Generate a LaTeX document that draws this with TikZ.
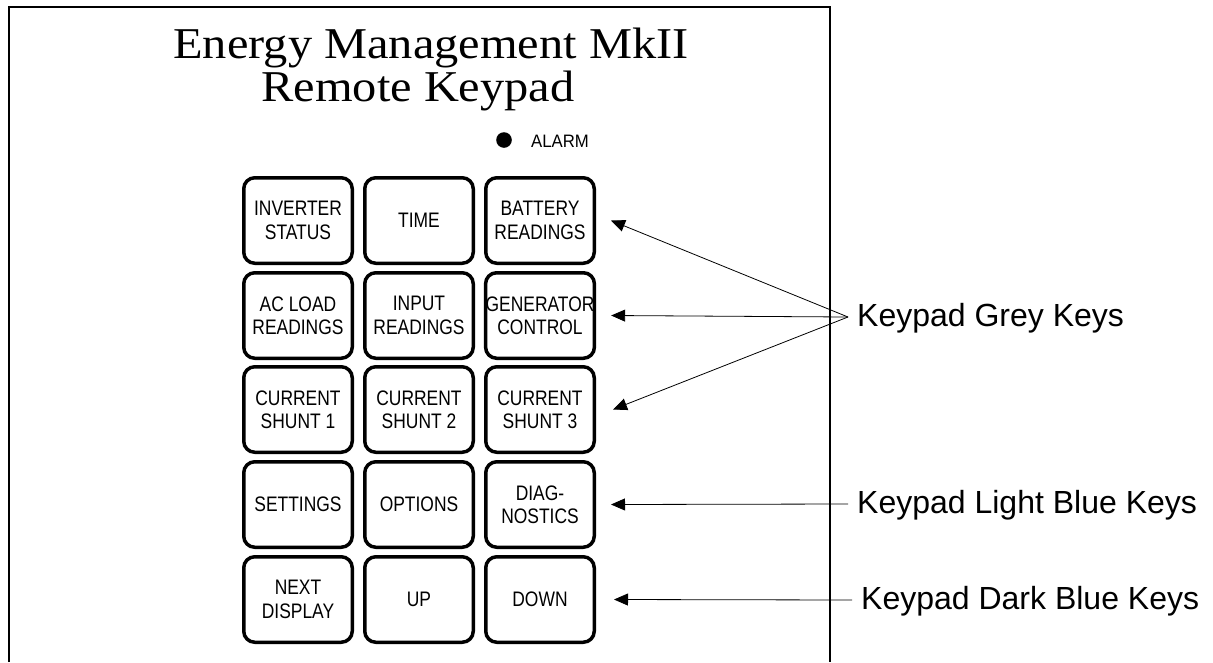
\documentclass[tikz,border=0pt]{standalone}
\usepackage{fontspec}
\setmainfont{Liberation Serif}
\newfontfamily\titlefont[FakeStretch=1.1]{Liberation Serif}
\newfontfamily\keyfont[FakeStretch=0.83]{Liberation Sans}
\newfontfamily\alarmfont[FakeStretch=0.93]{Liberation Sans}
\newfontfamily\labelfont{Liberation Sans}
\usetikzlibrary{arrows.meta,calc}
\begin{document}
\begin{tikzpicture}[x=1pt,y=-1pt,
  keybox/.style={draw, line width=3.5pt, rounded corners=11pt,
    minimum width=108.5pt, minimum height=85.5pt, inner sep=0pt, align=center,
    font=\keyfont\fontsize{21}{23.3}\selectfont},
  titletext/.style={inner sep=0pt, anchor=base, font=\titlefont\fontsize{44}{48}\selectfont},
  sidelabel/.style={anchor=base west, inner xsep=9pt, inner ysep=0pt,
    text height=23pt, text depth=5pt, font=\labelfont\fontsize{32}{36}\selectfont},
  pointer/.style={line width=0.8pt, -{Triangle[length=14pt,width=12pt]}},
  frameline/.style={line width=1.5pt}
]
\useasboundingbox (0,0) rectangle (1213,662);

% panel outline
\draw[frameline] (9,662) |- (830,7) -- (830,662);

% title
\node[titletext] (title1) at (431,58) {Energy Management MkII};
\node[titletext] (title2) at (418,101) {Remote Keypad};

% alarm lamp
\node[circle, fill=black, minimum size=15.6pt, inner sep=0pt] (alarmdot) at (504,140) {};
\node[anchor=base west, inner sep=0pt, font=\alarmfont\fontsize{18}{20}\selectfont] (alarm) at (531,147) {ALARM};

% keys
\node[keybox] (inv)  at (298,220.5) {INVERTER\\STATUS};
\node[keybox] (time) at (419,220.5) {TIME};
\node[keybox] (bat)  at (540,220.5) {BATTERY\\READINGS};

\node[keybox] (acl)  at (298,315.5) {AC LOAD\\READINGS};
\node[keybox] (inp)  at (419,315.5) {INPUT\\READINGS};
\node[keybox] (gen)  at (540,315.5) {GENERATOR\\CONTROL};

\node[keybox] (cs1)  at (298,409.5) {CURRENT\\SHUNT 1};
\node[keybox] (cs2)  at (419,409.5) {CURRENT\\SHUNT 2};
\node[keybox] (cs3)  at (540,409.5) {CURRENT\\SHUNT 3};

\node[keybox] (set)  at (298,504.5) {SETTINGS};
\node[keybox] (opt)  at (419,504.5) {OPTIONS};
\node[keybox] (diag) at (540,504.5) {DIAG-\\NOSTICS};

\node[keybox] (next) at (298,599.5) {NEXT\\DISPLAY};
\node[keybox] (up)   at (419,599.5) {UP};
\node[keybox] (down) at (540,599.5) {DOWN};

% side labels
\node[sidelabel] (grey)  at (848,326) {Keypad Grey Keys};
\node[sidelabel] (light) at (848,513) {Keypad Light Blue Keys};
\node[sidelabel] (dark)  at (852,609) {Keypad Dark Blue Keys};

% pointers
\draw[pointer] (grey.west) -- ($(bat.east)+(15,0)$);
\draw[pointer] (grey.west) -- ($(gen.east)+(15,0)$);
\draw[pointer] (grey.west) -- ($(cs3.east)+(17,0)$);
\draw[pointer] (light.west) -- ($(diag.east)+(15,0)$);
\draw[pointer] (dark.west) -- ($(down.east)+(18,0)$);
\end{tikzpicture}
\end{document}
